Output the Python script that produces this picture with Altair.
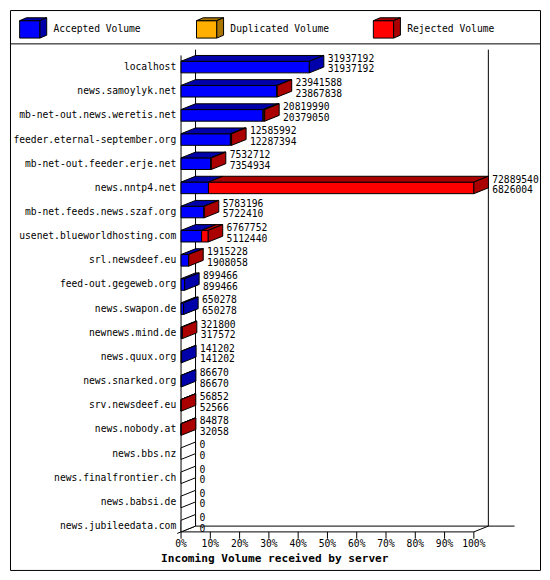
import altair as alt
import pandas as pd

# ---------------- data ----------------
servers = [
    "localhost", "news.samoylyk.net", "mb-net-out.news.weretis.net",
    "feeder.eternal-september.org", "mb-net-out.feeder.erje.net", "news.nntp4.net",
    "mb-net.feeds.news.szaf.org", "usenet.blueworldhosting.com", "srl.newsdeef.eu",
    "feed-out.gegeweb.org", "news.swapon.de", "newnews.mind.de", "news.quux.org",
    "news.snarked.org", "srv.newsdeef.eu", "news.nobody.at", "news.bbs.nz",
    "news.finalfrontier.ch", "news.babsi.de", "news.jubileedata.com",
]
totals = [31937192, 23941588, 20819990, 12585992, 7532712, 72889540, 5783196,
          6767752, 1915228, 899466, 650278, 321800, 141202, 86670, 56852, 84878,
          0, 0, 0, 0]
accepted = [31937192, 23867838, 20379050, 12287394, 7354934, 6826004, 5722410,
            5112440, 1908058, 899466, 650278, 317572, 141202, 86670, 52566, 32058,
            0, 0, 0, 0]
duplicated = [0, 0, 240000, 0, 0, 0, 0, 0, 0, 0, 0, 0, 0, 0, 0, 0, 0, 0, 0, 0]

series_names = ["Accepted", "Duplicated", "Rejected"]
legend_labels = ["Accepted Volume", "Duplicated Volume", "Rejected Volume"]
front_colors = ["#0000FF", "#FFAF00", "#FF0000"]
side_colors = ["#0000AA", "#AA7500", "#AA0000"]
tick_values = [0, 10, 20, 30, 40, 50, 60, 70, 80, 90, 100]
tick_labels = ["0%", "10%", "20%", "30%", "40%", "50%", "60%", "70%", "80%", "90%", "100%"]
x_title = "Incoming Volume received by server"

# ---------------- layout constants ----------------
S = 0.97
W = 532
H = 562
FONT = "DejaVu Sans Mono"
FS = 10 * S

N = len(servers)
X0, X100 = 177 * S, 480 * S
Y0, YN = 59 * S, 534 * S
px_pct = (X100 - X0) / 100.0
px_row = (YN - Y0) / (N - 1)
DX = 15 * S / px_pct      # depth in percent units
DY = 6 * S / px_row       # depth in row units
HH = 6 * S / px_row       # half height of front face

xs = alt.Scale(domain=[0, 100], range=[X0, X100], nice=False, zero=False)
ys = alt.Scale(domain=[0, N - 1], range=[Y0, YN], nice=False, zero=False)
front_fill = alt.Scale(domain=series_names, range=front_colors)
dark_fill = alt.Scale(domain=series_names + ["None"], range=side_colors + ["#FFFFFF"])

max_total = max(totals)
front_rows, top_rows, side_rows, lab_rows = [], [], [], []
for i, name in enumerate(servers):
    rej = totals[i] - accepted[i] - duplicated[i]
    vals = [accepted[i], duplicated[i], rej]
    start = 0.0
    last = "None"
    for sname, v in zip(series_names, vals):
        if v <= 0:
            continue
        end = start + v / max_total * 100.0
        fid = f"{i}-{sname}"
        front_rows.append(dict(series=sname, x0=start, x1=end, y0=i - HH, y1=i + HH))
        top_rows.append(dict(face=fid, series=sname, y=i - HH, xa=start, xb=end))
        top_rows.append(dict(face=fid, series=sname, y=i - HH - DY, xa=start + DX, xb=end + DX))
        start = end
        last = sname
    side_rows.append(dict(face=f"s{i}", series=last, x=start, ya=i - HH, yb=i + HH))
    side_rows.append(dict(face=f"s{i}", series=last, x=start + DX, ya=i - HH - DY, yb=i + HH - DY))
    lab_rows.append(dict(row=i, name=name, total=str(totals[i]), acc=str(accepted[i]),
                         xend=start + DX, zero=0.0))

df_front = pd.DataFrame(front_rows)
df_top = pd.DataFrame(top_rows)
df_side = pd.DataFrame(side_rows)
df_lab = pd.DataFrame(lab_rows)

yb = N - 1 + HH           # front floor
ybk = N - 1 + HH - DY     # back floor
walls = pd.DataFrame([
    dict(xa=0, ya=-0.48, xb=0, yb=yb),
    dict(xa=DX, ya=-0.72, xb=DX, yb=ybk),
    dict(xa=100 + DX, ya=-0.72, xb=100 + DX, yb=ybk),
    dict(xa=0, ya=yb, xb=100, yb=yb),
    dict(xa=100, ya=yb, xb=100 + DX, yb=ybk),
    dict(xa=DX, ya=ybk, xb=113.9, yb=ybk),
    dict(xa=-1.3, ya=yb + 1.3 * DY / DX, xb=DX, yb=ybk),
])
ticks = pd.DataFrame(dict(v=tick_values, lab=tick_labels,
                          ya=[yb] * len(tick_values),
                          yb=[yb + 0.28] * len(tick_values),
                          yl=[yb + 0.52] * len(tick_values)))

def X(f, **kw):
    return alt.X(f, type="quantitative", scale=xs, axis=None, **kw)

def Y(f, **kw):
    return alt.Y(f, type="quantitative", scale=ys, axis=None, **kw)

wall_layer = alt.Chart(walls).mark_rule(color="black", strokeWidth=1).encode(
    x=X("xa"), x2=alt.X2("xb"), y=Y("ya"), y2=alt.Y2("yb"))
tick_layer = alt.Chart(ticks).mark_rule(color="black", strokeWidth=1).encode(
    x=X("v"), y=Y("ya"), y2=alt.Y2("yb"))
tick_text = alt.Chart(ticks).mark_text(font=FONT, fontSize=FS, align="center",
                                       baseline="middle", color="black").encode(
    x=X("v"), y=Y("yl"), text="lab:N")

fronts = alt.Chart(df_front).mark_rect(stroke="black", strokeWidth=1).encode(
    x=X("x0", stack=False), x2=alt.X2("x1"), y=Y("y0", stack=False), y2=alt.Y2("y1"),
    fill=alt.Fill("series:N", scale=front_fill, legend=None))
tops = alt.Chart(df_top).mark_area(orient="horizontal", stroke="black", strokeWidth=1,
                                   opacity=1).encode(
    y=Y("y"), x=X("xa", stack=False), x2=alt.X2("xb"), detail="face:N",
    fill=alt.Fill("series:N", scale=dark_fill, legend=None))
sides = alt.Chart(df_side).mark_area(orient="vertical", stroke="black", strokeWidth=1,
                                     opacity=1).encode(
    x=X("x"), y=Y("ya", stack=False), y2=alt.Y2("yb"), detail="face:N",
    fill=alt.Fill("series:N", scale=dark_fill, legend=None))

cat_text = alt.Chart(df_lab).mark_text(font=FONT, fontSize=FS, align="right",
                                       baseline="middle", dx=-5 * S, color="black").encode(
    x=X("zero"), y=Y("row"), text="name:N")
tot_text = alt.Chart(df_lab).mark_text(font=FONT, fontSize=FS, align="left",
                                       baseline="middle", dx=4 * S, dy=-8.5 * S,
                                       color="black").encode(
    x=X("xend"), y=Y("row"), text="total:N")
acc_text = alt.Chart(df_lab).mark_text(font=FONT, fontSize=FS, align="left",
                                       baseline="middle", dx=4 * S, dy=2.5 * S,
                                       color="black").encode(
    x=X("xend"), y=Y("row"), text="acc:N")
title_text = alt.Chart(pd.DataFrame(dict(t=[x_title]))).mark_text(
    font=FONT, fontSize=11.5 * S, fontWeight="bold", align="center", baseline="middle",
    color="black").encode(x=alt.value(274 * S), y=alt.value(568 * S), text="t:N")

# ---------------- legend ----------------
unit = 183.0
bw, ldx, ldy = 21 / unit, 7 / unit, 3 / 9.0
lxs = alt.Scale(domain=[0, 2], range=[10 * S, 376 * S], nice=False, zero=False)
lys = alt.Scale(domain=[-1, 1], range=[11 * S, 29 * S], nice=False, zero=False)
lf, lt, lsd, ll = [], [], [], []
for k, (sname, lab) in enumerate(zip(series_names, legend_labels)):
    lf.append(dict(series=sname, a=k, b=k + bw, c=-1, d=1))
    lt += [dict(face=sname, series=sname, ly=-1, la=k, lb=k + bw),
           dict(face=sname, series=sname, ly=-1 - ldy, la=k + ldx, lb=k + bw + ldx)]
    lsd += [dict(face=sname, series=sname, lx=k + bw, la=-1, lb=1),
            dict(face=sname, series=sname, lx=k + bw + ldx, la=-1 - ldy, lb=1 - ldy)]
    ll.append(dict(k=k, lab=lab, c=0))

def LX(f, **kw):
    return alt.X(f, type="quantitative", scale=lxs, axis=None, **kw)

def LY(f, **kw):
    return alt.Y(f, type="quantitative", scale=lys, axis=None, **kw)

lfront = alt.Chart(pd.DataFrame(lf)).mark_rect(stroke="black", strokeWidth=1).encode(
    x=LX("a", stack=False), x2=alt.X2("b"), y=LY("c", stack=False), y2=alt.Y2("d"),
    fill=alt.Fill("series:N", scale=front_fill, legend=None))
ltop = alt.Chart(pd.DataFrame(lt)).mark_area(orient="horizontal", stroke="black",
                                             strokeWidth=1, opacity=1).encode(
    y=LY("ly"), x=LX("la", stack=False), x2=alt.X2("lb"), detail="face:N",
    fill=alt.Fill("series:N", scale=dark_fill, legend=None))
lside = alt.Chart(pd.DataFrame(lsd)).mark_area(orient="vertical", stroke="black",
                                               strokeWidth=1, opacity=1).encode(
    x=LX("lx"), y=LY("la", stack=False), y2=alt.Y2("lb"), detail="face:N",
    fill=alt.Fill("series:N", scale=dark_fill, legend=None))
ltext = alt.Chart(pd.DataFrame(ll)).mark_text(font=FONT, fontSize=FS, align="left",
                                              baseline="middle", dx=35 * S,
                                              color="black").encode(
    x=LX("k"), y=LY("c"), text="lab:N")
separator = alt.Chart(pd.DataFrame(dict(t=[0]))).mark_rule(
    color="black", strokeWidth=1).encode(
    x=alt.value(0), x2=alt.value(W), y=alt.value(35 * S))

chart = alt.layer(
    separator, lfront, ltop, lside, ltext,
    wall_layer, tick_layer, tick_text, fronts, tops, sides,
    cat_text, tot_text, acc_text, title_text,
).resolve_scale(
    x="independent", y="independent", fill="independent"
).properties(width=W, height=H, padding=1).configure_view(stroke="black", strokeWidth=1)

chart.save("out.html", embed_options={"renderer": "svg", "actions": False})
